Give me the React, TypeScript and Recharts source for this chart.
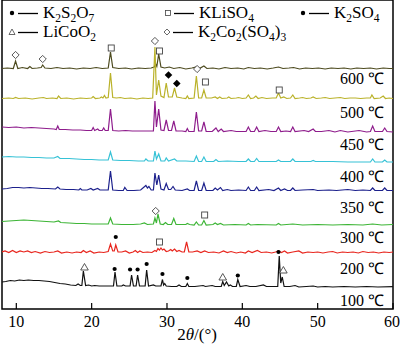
import { ComposedChart, Line, Scatter, XAxis, YAxis, ReferenceArea } from 'recharts'

const SERIF = '"Liberation Serif", "Times New Roman", serif'

// x axis (2θ, degrees)
const ticks = [10, 20, 30, 40, 50, 60]

// patterns, [2θ, intensity]
const t600 = [
  [8.1, 0.5], [8.8, 1], [9.6, 0.5], [9.9, 8], [10.2, 0.5], [10.8, 1.5], [11.5, 0.5], [11.8, 2.5], [12.1, 0.5], [12.8, 1],
  [13.3, 1.5], [13.5, 4], [13.8, 1], [14.6, 0.5], [15.4, 1.5], [16.2, 0.5], [17.1, 1], [18, 0], [18.9, 1], [19.8, 0.5],
  [20.6, 1.5], [21.4, 0.5], [22.2, 1], [22.5, 17], [22.8, 1.5], [23.6, 0.5], [24.5, 1], [25.3, 0], [26.2, 1], [27.1, 0.5],
  [27.9, 1], [28.3, 2], [28.5, 5], [28.65, 2.5], [28.9, 15], [29.2, 2], [29.7, 1], [30.3, 2], [30.9, 0.5], [31.7, 1.5],
  [32.5, 0], [33.3, 1], [33.9, 2], [34.3, 0.5], [34.9, 3], [35.3, 0.5], [36.1, 1], [36.9, 0], [37.7, 1.5], [38.5, 0.5],
  [39.4, 1], [40.2, 0], [40.8, 1.5], [41.6, 0.5], [42.4, 1], [43.3, 0], [44.1, 1], [44.8, 2], [45.4, 0.5], [46.2, 1],
  [46.8, 1.5], [47.6, 0], [48.4, 1], [49.3, 0.5], [50.1, 1], [51, 0], [51.8, 1], [52.7, 0.5], [53.5, 1], [54.4, 0],
  [55.2, 1], [56.1, 0.5], [57, 1], [57.8, 0], [58.7, 1], [59.5, 0.5], [60, 0.5],
]
const t500 = [
  [8.1, 0.5], [9, 1], [9.6, 0.5], [9.9, 1.5], [10.3, 0.5], [11.2, 1], [12.1, 0], [13, 1], [13.6, 1.5], [14, 0.5],
  [14.8, 1], [15.4, 0.5], [15.6, 3], [15.9, 0.5], [16.7, 1], [17.6, 0], [18.5, 1], [19.3, 0.5], [20, 1], [20.2, 2.5],
  [20.5, 0.5], [21.1, 1], [21.3, 2], [21.5, 1], [21.7, 3.5], [21.9, 1], [22.2, 1.5], [22.5, 26], [22.8, 1.5], [23.3, 1],
  [23.8, 1.5], [24.4, 0.5], [25.2, 1], [26, 0], [26.8, 1], [27.5, 0.5], [28.1, 1], [28.4, 52], [28.6, 4], [28.9, 19],
  [29.2, 3], [29.6, 1.5], [29.9, 16], [30.2, 2], [30.7, 2], [31, 11], [31.3, 2], [32, 1], [32.5, 0.5], [32.7, 3],
  [32.9, 0.5], [33.6, 1], [33.9, 23], [34.2, 1], [34.6, 1], [34.9, 9], [35.2, 1], [35.9, 1], [36.4, 2], [36.7, 0.5],
  [37, 2], [37.3, 0.5], [38, 1], [38.2, 2], [38.5, 0.5], [39.2, 1], [39.5, 1.5], [40, 0.5], [40.5, 1], [40.8, 4],
  [41.1, 0.5], [41.5, 1], [41.8, 3], [42.1, 0.5], [42.6, 1.5], [43.2, 0.5], [44, 1], [44.5, 1], [44.8, 6], [45.1, 1],
  [45.5, 2], [45.9, 0.5], [46.4, 1], [46.7, 4], [47, 0.5], [47.6, 1], [48, 1.5], [48.5, 0.5], [49.1, 1], [49.4, 2],
  [49.8, 0.5], [50.5, 1], [51, 1.5], [51.6, 0.5], [52.3, 1], [53, 1.5], [53.6, 0.5], [54.3, 1], [55, 1], [55.7, 0.5],
  [56.5, 1], [57, 1], [57.2, 4], [57.5, 0.5], [58.3, 1], [58.7, 3], [59, 0.5], [59.5, 1], [60, 0.5],
]
const t450 = [
  [8.1, 5], [9, 4.5], [10, 5], [11, 4], [12, 4.5], [13, 4], [14, 3.5], [15, 3], [15.3, 2.5], [15.5, 6],
  [15.7, 2.5], [16.5, 2.5], [17.5, 2], [18.5, 2], [19.3, 1.5], [20, 1.5], [20.2, 4.5], [20.4, 1.5], [20.8, 3], [21, 1.5],
  [21.4, 1.5], [21.6, 4], [21.8, 1.5], [22.2, 1.5], [22.5, 23], [22.8, 1.5], [23.6, 1], [24.5, 1.5], [25.4, 1], [26.3, 1],
  [27.2, 1], [28.2, 1], [28.4, 31], [28.6, 5], [28.9, 23], [29.2, 2], [29.6, 1.5], [29.9, 12], [30.2, 1.5], [30.6, 1.5],
  [30.9, 11], [31.2, 1], [32, 1], [32.5, 0.5], [32.7, 3.5], [32.9, 0.5], [33.6, 0.5], [33.9, 20], [34.2, 1], [34.6, 1],
  [34.9, 10], [35.2, 0.5], [36, 0.5], [36.5, 4], [36.8, 0.5], [37.2, 3], [37.5, 0.5], [38.5, 1.5], [39.2, 0.5], [40.5, 0.5],
  [40.8, 5], [41.1, 0.5], [41.6, 0.5], [41.9, 5], [42.2, 0.5], [43, 1.5], [43.8, 0.5], [44.5, 0.5], [44.8, 5], [45.1, 0.5],
  [45.8, 1], [46.4, 0.5], [46.7, 5], [47, 0.5], [48.2, 1.5], [48.8, 0.5], [49.4, 3], [49.7, 0.5], [50.5, 0.5], [51.5, 1.5],
  [52.3, 0], [53, 1.5], [54, 0], [55.5, 1.5], [56.5, 0], [57, 0.5], [57.3, 6], [57.6, 0.5], [58.6, 0.5], [58.9, 4],
  [59.2, 0.5], [60, 0],
]
const t400 = [
  [8.1, 5], [9, 5.5], [10, 5], [11, 5], [12, 4.5], [13, 4.5], [14, 4], [15, 4], [15.5, 5.5], [15.8, 3.5],
  [17, 3.5], [18, 3], [19, 2.5], [20, 2.5], [21, 2], [22.2, 2], [22.5, 10], [22.8, 2], [23.8, 1.5], [25, 1.5],
  [26.2, 1], [27, 1], [27.2, 3], [27.5, 1], [28.2, 1], [28.4, 11], [28.6, 3], [28.9, 8], [29.2, 1], [29.7, 1],
  [29.9, 4], [30.2, 1], [31, 3], [31.3, 1], [32.5, 1], [33.6, 0.5], [33.9, 6], [34.2, 0.5], [34.6, 0.5], [34.9, 5],
  [35.2, 0.5], [36.2, 0.5], [36.5, 2.5], [36.8, 0.5], [38, 1], [39.5, 0.5], [40.5, 0.5], [40.8, 3], [41.1, 0.5], [41.6, 0.5],
  [41.9, 3.5], [42.2, 0.5], [44.5, 0.5], [44.8, 2], [45.1, 0.5], [46.4, 0.5], [46.7, 3], [47, 0.5], [49.1, 0.5], [49.4, 1.5],
  [49.7, 0.5], [52, 0.5], [54, 0], [57, 0], [57.3, 3], [57.6, 0], [58.6, 0], [58.9, 2], [59.2, 0], [60, 0],
]
const t350 = [
  [8.1, 2], [8.8, 2.5], [9.5, 3.5], [10.3, 3.5], [11, 3], [11.8, 3.5], [12.6, 3], [13.4, 2.5], [14.2, 2.5], [15.2, 2],
  [15.5, 4], [15.8, 2], [16.6, 1.5], [17.6, 1.5], [18.3, 1], [18.5, 2.5], [18.7, 1], [19.4, 1], [19.9, 2.5], [20.2, 1],
  [20.8, 2.5], [21.1, 1], [21.8, 1], [22.2, 1], [22.5, 20], [22.8, 1], [23.6, 0.5], [24.2, 0.5], [24.4, 3.5], [24.7, 0.5],
  [25.6, 0.5], [26.5, 1], [27.2, 5.5], [27.4, 3], [27.6, 4.5], [27.9, 1], [28.2, 1], [28.4, 18], [28.65, 6], [28.9, 16],
  [29.2, 2], [29.6, 1], [29.9, 7.5], [30.2, 1.5], [30.5, 1.5], [30.8, 4.5], [31.1, 1], [32, 0.5], [32.7, 2], [33, 0.5],
  [33.6, 0.5], [33.9, 10], [34.2, 0.5], [34.6, 0.5], [34.9, 8], [35.2, 0.5], [36.1, 0.5], [36.4, 3], [36.7, 1], [37.1, 3.5],
  [37.4, 0.5], [38, 1.5], [38.5, 0.5], [39.5, 1], [40.5, 0.5], [40.8, 4], [41.1, 0.5], [41.6, 0.5], [41.9, 4], [42.2, 0.5],
  [43.5, 1.5], [44.2, 0.5], [44.8, 3], [45.1, 0.5], [45.6, 2], [46, 0.5], [46.4, 0.5], [46.7, 3], [47, 0.5], [48, 1],
  [49.4, 1.5], [50, 0.5], [51.5, 1], [52.5, 0.5], [54, 1.5], [55, 0.5], [56, 1], [57, 0.5], [57.3, 3], [57.6, 0.5],
  [58.6, 0.5], [58.9, 3], [59.2, 0.5], [60, 0.5],
]
const t300 = [
  [8.1, 3.5], [9, 4], [10, 4.5], [11, 5], [12, 4.5], [13, 4], [14, 3.5], [15, 3], [15.6, 4], [15.9, 2.5],
  [17, 2], [18, 1.5], [19, 1.5], [20, 1], [21, 1], [22.2, 1], [22.5, 7], [22.8, 1], [24, 0.5], [25.5, 0.5],
  [26.5, 1], [27, 2], [27.4, 0.5], [28.2, 1], [28.4, 7], [28.6, 2], [28.8, 11], [29.1, 1], [29.5, 0.5], [29.8, 2.5],
  [30.1, 0.5], [30.6, 0.5], [30.9, 6.5], [31.2, 0.5], [32.5, 0.5], [32.7, 1.5], [33, 0.5], [33.6, 0], [33.9, 3], [34.2, 0],
  [34.6, 0], [34.9, 4.5], [35.2, 0], [36.1, 0.5], [36.4, 2], [36.7, 0.5], [37.1, 1.5], [37.5, 0], [39, 0.5], [40.5, 0],
  [40.8, 1.5], [41.1, 0], [42, 0.5], [44.5, 0], [44.8, 1.5], [45.1, 0], [46.7, 1], [48, 0], [50, 0.5], [52, 0],
  [54, 0.5], [56, 0], [57.3, 1], [58.5, 0], [60, 0.5],
]
const t200 = [
  [8.1, 1], [8.5, 2], [9, 0.5], [9.5, 2.5], [10, 0.5], [10.5, 2], [11, 1], [11.5, 2], [12, 0.5], [12.5, 1.5],
  [13.2, 0], [13.8, 1.5], [14.4, 0.5], [15, 1], [15.5, 2], [16, 0], [16.7, 1], [17.4, 0], [18, 1], [18.6, 0.5],
  [18.9, 2.5], [19.3, 0.5], [19.8, 2], [20.3, 0], [21, 1], [21.6, 0.5], [22.2, 1.5], [22.5, 9], [22.8, 2], [23, 2],
  [23.2, 8], [23.5, 1], [24, 1], [24.5, 2], [25, 0], [25.5, 1], [25.8, 2.5], [26.1, 0.5], [26.4, 2], [26.8, 0.5],
  [27.4, 1], [28, 0.5], [28.4, 2.5], [28.6, 1.5], [28.8, 4.5], [29, 3], [29.2, 5], [29.4, 3], [29.6, 4], [29.9, 1.5],
  [30.2, 2], [30.5, 3.5], [30.7, 2], [31, 4], [31.3, 1.5], [31.6, 2.5], [32, 1], [32.3, 1], [32.6, 11], [32.9, 1],
  [33.4, 1], [34, 2], [34.5, 0.5], [35, 2], [35.5, 0.5], [36.2, 1], [36.9, 0], [37.5, 2], [38, 0.5], [38.5, 1.5],
  [39.2, 0], [39.8, 1], [40.4, 0], [40.8, 2], [41.3, 0.5], [42, 2.5], [42.5, 0.5], [43.2, 1], [43.9, 0], [44.4, 1],
  [44.8, 2], [45.2, 0.5], [45.6, 2], [46, 0], [46.7, 1], [47.5, 2], [48, 0], [48.7, 1], [49.4, 0.5], [50, 1],
  [50.7, 0], [51.4, 1], [52, 1.5], [52.6, 0], [53.3, 1], [54, 0.5], [54.7, 1], [55.4, 0], [56, 1.5], [56.7, 0.5],
  [57.4, 1], [58.1, 0], [58.8, 1], [59.5, 0.5], [60, 1],
]
const t100 = [
  [8.1, 5], [8.6, 5.5], [9.2, 6.5], [9.8, 6], [10.4, 7], [11, 6.5], [11.6, 7], [12.3, 6.5], [13, 6.5], [13.7, 6],
  [14.4, 5.5], [15.1, 4.5], [15.8, 3.5], [16.5, 3], [17.2, 2], [17.9, 1.5], [18.2, 3], [18.5, 1.5], [18.7, 1.5], [18.9, 16],
  [19.2, 1.5], [19.6, 2], [20, 1], [20.4, 1.5], [21, 1], [21.8, 1], [22.5, 1], [22.9, 1], [23.1, 15], [23.35, 1],
  [24, 1], [24.2, 2], [24.5, 1], [25.1, 1], [25.3, 12], [25.55, 1], [25.9, 1], [26.1, 12], [26.35, 1], [27.1, 1],
  [27.3, 17], [27.55, 1], [28.2, 2], [28.5, 1], [29.2, 1], [29.4, 7.5], [29.55, 2], [29.7, 3.5], [29.9, 1], [30.6, 0.5],
  [31.3, 0.5], [31.6, 2], [31.9, 0.5], [32.5, 0.5], [32.7, 3.5], [32.9, 0.5], [33.7, 0.5], [34.8, 1.5], [35.1, 0.5], [36, 1.5],
  [36.4, 0.5], [37.2, 0.5], [37.4, 5.5], [37.6, 1.5], [37.9, 5], [38.2, 1], [38.4, 2], [38.7, 0.5], [39.2, 0.5], [39.4, 7.5],
  [39.7, 0.5], [40.5, 1.5], [41, 0.5], [41.8, 0.5], [42.8, 2], [43.2, 0.5], [44.2, 0.5], [44.7, 0.5], [44.9, 31], [45.1, 4],
  [45.3, 10], [45.55, 0.5], [46.3, 0.5], [47, 1.5], [47.5, 0], [48.5, 0.5], [49.4, 1], [50, 0], [51, 0.5], [52, 0],
  [53.5, 0.5], [55, 0], [56.5, 0.5], [58, 0], [60, 0.3],
]

const patterns = [t600, t500, t450, t400, t350, t300, t200, t100]
const temps = ['600 ℃', '500 ℃', '450 ℃', '400 ℃', '350 ℃', '300 ℃', '200 ℃', '100 ℃']

// phase markers, [2θ, height on the stacked scale]
const k2s2o7 = [[23.2, 72], [23.05, 40], [25.1, 39.5], [26.1, 39.5], [27.3, 45], [29.4, 35], [32.7, 31], [39.4, 33.5], [44.8, 57]]
const kliso4 = [[22.6, 261], [29.0, 258], [35.1, 227], [44.9, 219], [35.0, 94], [29.0, 67]]
const k2so4 = [[30.2, 234], [31.3, 225.5]]
const licoo2 = [[19.05, 42], [37.4, 32], [45.45, 39]]
const k2co2so43 = [[9.9, 254], [13.5, 250], [28.4, 268], [34.0, 240], [28.5, 98]]

const legendItems = ['K2S2O7', 'KLiSO4', 'K2SO4', 'LiCoO2', 'K2Co2(SO4)3']

const COLORS = ['#4d4b1f', '#bab22a', '#8e1c8c', '#36c2d6', '#1c208c', '#3db536', '#e8261e', '#111111']
const OFFSETS = [240, 210, 177, 147, 118, 84, 56, 22]
const LABEL_Y = [84, 118, 150, 182, 213, 243, 274, 306]
const MARK = '#444'

const toPts = (arr: number[][]) => arr.map(([x, y]) => ({ x, y }))

const Dot = (p: any) => <circle cx={p.cx} cy={p.cy} r={2.1} fill="#000" />
const Box = (p: any) => <rect x={p.cx - 3} y={p.cy - 3} width={6} height={6} fill="#fff" stroke={MARK} strokeWidth={0.9} />
const Tri = (p: any) => (
  <polygon points={`${p.cx},${p.cy - 3.5} ${p.cx + 3.8},${p.cy + 3} ${p.cx - 3.8},${p.cy + 3}`} fill="#fff" stroke={MARK} strokeWidth={0.9} />
)
const Dia = (p: any) => (
  <polygon points={`${p.cx},${p.cy - 3.6} ${p.cx + 3.6},${p.cy} ${p.cx},${p.cy + 3.6} ${p.cx - 3.6},${p.cy}`} fill="#fff" stroke={MARK} strokeWidth={0.9} />
)
const SolidDia = (p: any) => (
  <polygon points={`${p.cx},${p.cy - 3.8} ${p.cx + 3.8},${p.cy} ${p.cx},${p.cy + 3.8} ${p.cx - 3.8},${p.cy}`} fill="#000" />
)

function Chem({ f, x, y }: { f: string; x: number; y: number }) {
  const parts = f.split(/(\d+)/).filter(Boolean)
  let shift = 0
  return (
    <text x={x} y={y} fontSize={17} fontFamily={SERIF} fill="#000">
      {parts.map((p, i) => {
        const sub = /^\d+$/.test(p)
        const dy = (sub ? 3.5 : 0) - shift
        shift = sub ? 3.5 : 0
        return (
          <tspan key={i} dy={dy} fontSize={sub ? 11.5 : 17}>
            {p}
          </tspan>
        )
      })}
    </text>
  )
}

const legendPos = [
  { x: 12, y: 18, cy: 13, mark: 'dot' },
  { x: 168, y: 18, cy: 13, mark: 'box' },
  { x: 303, y: 18, cy: 13, mark: 'dot' },
  { x: 12, y: 37, cy: 32, mark: 'tri' },
  { x: 167, y: 37, cy: 32, mark: 'dia' },
]

function LegendMark({ kind, cx, cy }: { kind: string; cx: number; cy: number }) {
  if (kind === 'dot') return <circle cx={cx} cy={cy} r={2.2} fill="#000" />
  if (kind === 'box') return <rect x={cx - 2.5} y={cy - 2.5} width={5} height={5} fill="#fff" stroke={MARK} strokeWidth={0.8} />
  if (kind === 'tri') return <polygon points={`${cx},${cy - 3} ${cx + 3},${cy + 2.5} ${cx - 3},${cy + 2.5}`} fill="#fff" stroke={MARK} strokeWidth={0.8} />
  return <polygon points={`${cx},${cy - 3} ${cx + 3},${cy} ${cx},${cy + 3} ${cx - 3},${cy}`} fill="#fff" stroke={MARK} strokeWidth={0.8} />
}

export default function App() {
  return (
    <div style={{ position: 'absolute', left: 0, top: 0, width: 400, height: 352, background: '#fff' }}>
      <ComposedChart width={400} height={352} margin={{ top: 0, right: 7, bottom: 0, left: 2 }}>
        <XAxis
          type="number"
          dataKey="x"
          domain={[8.1, 60]}
          ticks={ticks}
          allowDataOverflow
          height={43}
          axisLine={false}
          tickSize={-6}
          tickMargin={13}
          tickLine={{ stroke: '#000', strokeWidth: 1.2 }}
          tick={{ fontSize: 16, fill: '#000', fontFamily: SERIF }}
        />
        <YAxis type="number" dataKey="y" domain={[0, 309]} hide allowDataOverflow />
        {patterns.map((p, i) => (
          <Line
            key={i}
            data={p.map(([x, y]) => ({ x, y: y + OFFSETS[i] }))}
            dataKey="y"
            stroke={COLORS[i]}
            strokeWidth={1.2}
            dot={false}
            activeDot={false}
            isAnimationActive={false}
          />
        ))}
        <Scatter data={toPts(k2s2o7)} shape={Dot} isAnimationActive={false} />
        <Scatter data={toPts(kliso4)} shape={Box} isAnimationActive={false} />
        <Scatter data={toPts(k2so4)} shape={SolidDia} isAnimationActive={false} />
        <Scatter data={toPts(licoo2)} shape={Tri} isAnimationActive={false} />
        <Scatter data={toPts(k2co2so43)} shape={Dia} isAnimationActive={false} />
        <ReferenceArea x1={8.1} x2={60} y1={0} y2={309} fill="none" stroke="#000" strokeWidth={1.5} ifOverflow="visible" />
      </ComposedChart>
      <svg width={400} height={352} style={{ position: 'absolute', left: 0, top: 0, pointerEvents: 'none' }}>
        {legendItems.map((name, i) => {
          const l = legendPos[i]
          return (
            <g key={name}>
              <LegendMark kind={l.mark} cx={l.x} cy={l.cy} />
              <line x1={l.x + 6} x2={l.x + 26} y1={l.cy + 0.5} y2={l.cy + 0.5} stroke="#000" strokeWidth={1.3} />
              <Chem f={name} x={l.x + 31} y={l.y} />
            </g>
          )
        })}
        {temps.map((t, i) => (
          <text key={t} x={384} y={LABEL_Y[i]} textAnchor="end" fontSize={16} fontFamily={SERIF} fill="#000">
            {t}
          </text>
        ))}
        <text x={197} y={340} textAnchor="middle" fontSize={17} fontFamily={SERIF} fill="#000">
          2<tspan fontStyle="italic">θ</tspan>/(°)
        </text>
      </svg>
    </div>
  )
}
